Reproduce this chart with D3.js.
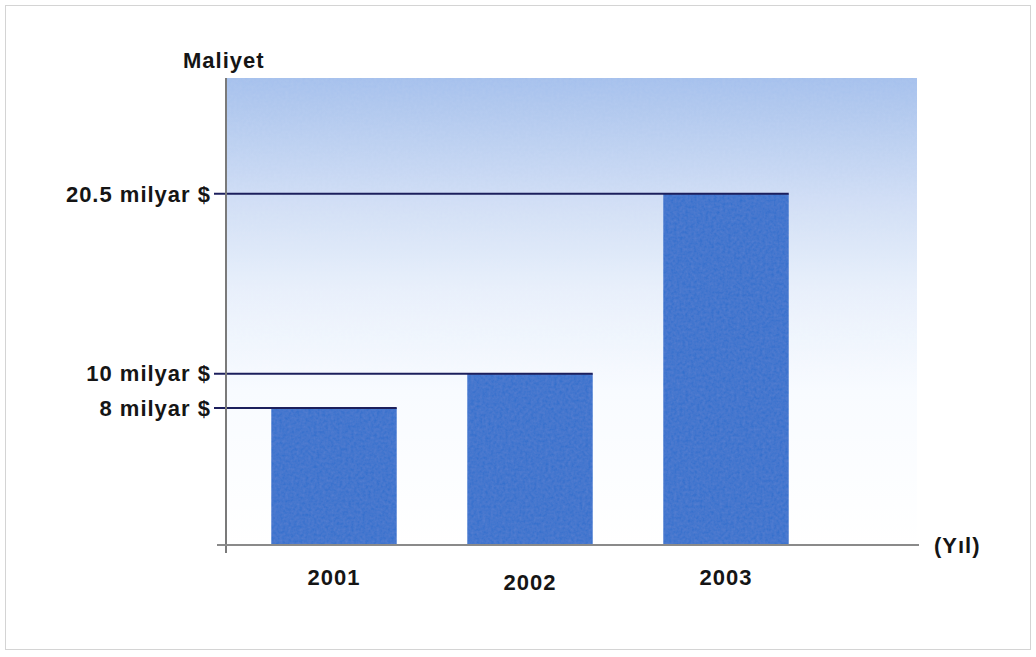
<!DOCTYPE html>
<html>
<head>
<meta charset="utf-8">
<script src="https://cdn.jsdelivr.net/npm/d3@7"></script>
<style>
  html, body { margin: 0; padding: 0; background: #fff; }
  svg { display: block; }
  text { font-family: "Liberation Sans", Arial, sans-serif; font-weight: bold; fill: #151515; letter-spacing: 1px; }
</style>
</head>
<body>
<svg id="chart" width="1036" height="657"></svg>
<script>
// Yearly cost (billion $)
const years = ["2001", "2002", "2003"];
const costs = [8, 10, 20.5];
const costLabels = ["8 milyar $", "10 milyar $", "20.5 milyar $"];
const yearLabelShift = [0, 5, 0];
const yAxisTitle = "Maliyet";
const xAxisTitle = "(Yıl)";

const svg = d3.select("#chart");
const W = 1036, H = 657;

// thin outer frame
svg.append("rect")
  .attr("x", 5.5).attr("y", 5.5).attr("width", W - 11).attr("height", H - 13)
  .attr("fill", "none").attr("stroke", "#d4d4d4").attr("stroke-width", 1);

const plot = { left: 226, right: 917, top: 78, bottom: 545 };

const y = d3.scaleLinear().domain([0, 27.26]).range([plot.bottom, plot.top]);
const x = d3.scaleBand().domain(years).range([236, 824]).paddingInner(0.36).paddingOuter(0.18);

// background gradient, blue at the top fading to white
const defs = svg.append("defs");
const grad = defs.append("linearGradient").attr("id", "bg").attr("x1", 0).attr("y1", 0).attr("x2", 0).attr("y2", 1);
grad.append("stop").attr("offset", "0%").attr("stop-color", "#a3bfec");
grad.append("stop").attr("offset", "26%").attr("stop-color", "#cfddf5");
grad.append("stop").attr("offset", "45%").attr("stop-color", "#e7effb");
grad.append("stop").attr("offset", "67%").attr("stop-color", "#f8fbff");
grad.append("stop").attr("offset", "100%").attr("stop-color", "#ffffff");

// subtle grain for the fills
const noise = defs.append("filter").attr("id", "grain").attr("x", 0).attr("y", 0).attr("width", 1).attr("height", 1);
noise.append("feTurbulence").attr("type", "fractalNoise").attr("baseFrequency", 0.35).attr("numOctaves", 2).attr("seed", 4).attr("result", "n");
noise.append("feColorMatrix").attr("in", "n").attr("type", "matrix")
  .attr("values", "0 0 0 0 1  0 0 0 0 1  0 0 0 0 1  0 0 0 0.07 0").attr("result", "w");
noise.append("feComposite").attr("in", "w").attr("in2", "SourceGraphic").attr("operator", "atop");

svg.append("rect")
  .attr("x", plot.left).attr("y", plot.top)
  .attr("width", plot.right - plot.left).attr("height", plot.bottom - plot.top)
  .attr("fill", "url(#bg)").attr("filter", "url(#grain)");

// bars
svg.selectAll("rect.bar").data(years).join("rect")
  .attr("class", "bar")
  .attr("x", d => x(d))
  .attr("y", (d, i) => y(costs[i]))
  .attr("width", x.bandwidth())
  .attr("height", (d, i) => y(0) - y(costs[i]))
  .attr("fill", "#2c6dcc")
  .attr("filter", "url(#grain)");

// reference lines from the axis to each bar's right edge
svg.selectAll("line.ref").data(years).join("line")
  .attr("class", "ref")
  .attr("x1", 214)
  .attr("x2", d => x(d) + x.bandwidth())
  .attr("y1", (d, i) => y(costs[i]))
  .attr("y2", (d, i) => y(costs[i]))
  .attr("stroke", "#1c1f5c").attr("stroke-width", 2);

// value labels on the left
svg.selectAll("text.val").data(years).join("text")
  .attr("class", "val")
  .attr("x", 211)
  .attr("y", (d, i) => y(costs[i]))
  .attr("dy", "0.35em")
  .attr("text-anchor", "end")
  .attr("font-size", 22)
  .text((d, i) => costLabels[i]);

// axes
svg.append("line")
  .attr("x1", plot.left).attr("x2", plot.left)
  .attr("y1", plot.top).attr("y2", 553)
  .attr("stroke", "#7a7a7a").attr("stroke-width", 2);
svg.append("line")
  .attr("x1", 217).attr("x2", 919)
  .attr("y1", plot.bottom).attr("y2", plot.bottom)
  .attr("stroke", "#8a8a8a").attr("stroke-width", 2);

// year labels
const xAxis = d3.axisBottom(x).tickSize(0).tickPadding(0);
const gx = svg.append("g").attr("transform", `translate(0,${plot.bottom})`).call(xAxis);
gx.select(".domain").remove();
gx.selectAll("text")
  .attr("y", (d, i) => 32 + yearLabelShift[i])
  .attr("dy", "0.35em")
  .attr("font-size", 22)
  .style("font-family", "\"Liberation Sans\", Arial, sans-serif")
  .style("font-weight", "bold")
  .attr("fill", "#151515");

// axis titles
svg.append("text").attr("x", 183).attr("y", 60).attr("dy", "0.35em")
  .attr("font-size", 22).text(yAxisTitle);
svg.append("text").attr("x", 934).attr("y", 545).attr("dy", "0.35em")
  .attr("font-size", 22).text(xAxisTitle);
</script>
</body>
</html>
